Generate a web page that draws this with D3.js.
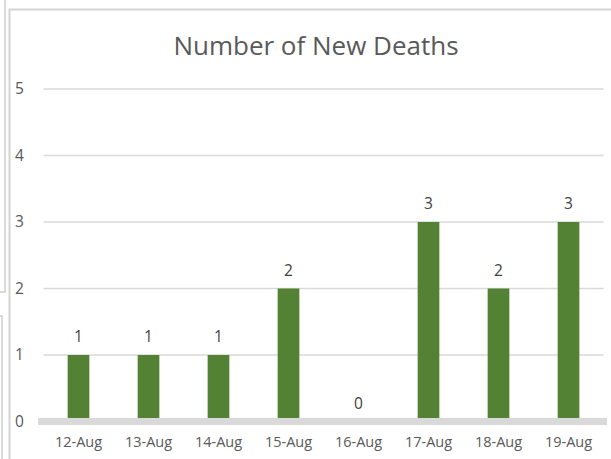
<!DOCTYPE html>
<html>
<head>
<meta charset="utf-8">
<script src="https://cdn.jsdelivr.net/npm/d3@7/dist/d3.min.js"></script>
<style>
html,body{margin:0;padding:0;background:#fff;}
svg{display:block;}
text{font-family:"Open Sans","Noto Sans",sans-serif;}
</style>
</head>
<body>
<svg id="chart" width="611" height="459"></svg>
<script>
const categories = ["12-Aug","13-Aug","14-Aug","15-Aug","16-Aug","17-Aug","18-Aug","19-Aug"];
const deaths = [1,1,1,2,0,3,2,3];
const yTicks = [0,1,2,3,4,5];
const title = "Number of New Deaths";

const svg = d3.select("#chart");
const W = 611, H = 459;
const plot = {left:43.5, right:603.5, top:89, bottom:421.5};

// frame artifacts
const g0 = svg.append("g").attr("fill","none").attr("stroke","#cfcfcf").attr("stroke-width",1.5);
g0.append("path").attr("d","M5,0 V292 H0");
g0.append("path").attr("d","M0,316 H2 V459");
g0.append("path").attr("d","M9.5,459 V9.5 H611").attr("stroke","#d4d4d4").attr("stroke-width",2);

const x = d3.scaleBand().domain(categories).range([plot.left, plot.right]).padding(0);
const y = d3.scaleLinear().domain([0,5]).range([plot.bottom, plot.top]);

// gridlines
svg.append("g").selectAll("line").data(yTicks.filter(d=>d>0)).join("line")
  .attr("x1",plot.left).attr("x2",plot.right)
  .attr("y1",d=>y(d)).attr("y2",d=>y(d))
  .attr("stroke","#d9d9d9").attr("stroke-width",1.5);

// y axis labels
const yAxis = d3.axisLeft(y).tickValues(yTicks).tickSize(0).tickPadding(0).tickFormat(d3.format("d"));
const ya = svg.append("g").attr("transform","translate(15,0)").call(yAxis);
ya.select(".domain").remove();
ya.selectAll("text").attr("text-anchor","start").attr("x",0).attr("fill","#595959").style("font-size","15.5px").attr("font-family",null);

// bars
const bw = x.bandwidth()*0.31;
svg.append("g").selectAll("rect").data(deaths).join("rect")
  .attr("x",(d,i)=>x(categories[i])+x.bandwidth()/2-bw/2)
  .attr("width",bw)
  .attr("y",d=>y(d))
  .attr("height",d=>y(0)-y(d))
  .attr("fill","#548235");

// baseline axis band
svg.append("line").attr("x1",38).attr("x2",607).attr("y1",y(0)).attr("y2",y(0))
  .attr("stroke","#d9d9d9").attr("stroke-width",7);

// value labels
svg.append("g").selectAll("text").data(deaths).join("text")
  .attr("x",(d,i)=>x(categories[i])+x.bandwidth()/2)
  .attr("y",d=>y(d)-13)
  .attr("text-anchor","middle").attr("fill","#404040").style("font-size","15.5px")
  .text(d=>d);

// x axis labels
const xAxis = d3.axisBottom(x).tickSize(0).tickPadding(0);
const xa = svg.append("g").attr("transform",`translate(0,${y(0)+12})`).call(xAxis);
xa.select(".domain").remove();
xa.selectAll("text").attr("fill","#595959").style("font-size","14.5px").attr("font-family",null).attr("dy","0.9em");

// title
svg.append("text").attr("x",316).attr("y",55).attr("text-anchor","middle")
  .attr("fill","#595959").style("font-size","26px").text(title);
</script>
</body>
</html>
